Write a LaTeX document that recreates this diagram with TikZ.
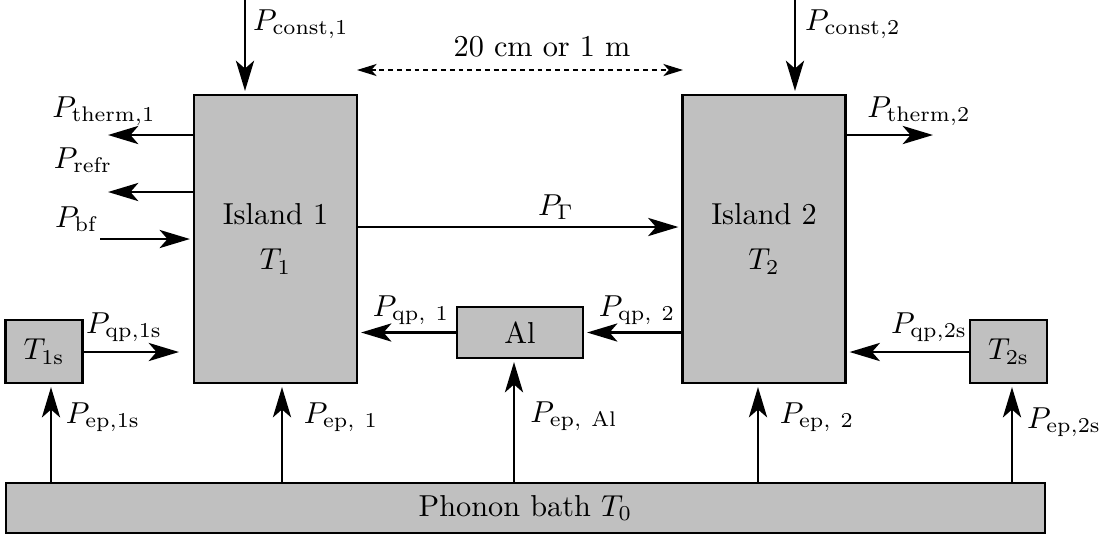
\documentclass[tikz,border=0pt]{standalone}
\usepackage{amsmath}
\usetikzlibrary{arrows.meta}
\definecolor{blockgray}{HTML}{C0C0C0}
\tikzset{
  block/.style={draw=black, fill=blockgray, line width=.7pt, align=center,
    inner sep=0pt},
  flow/.style={-{Stealth[length=10pt,width=6pt,inset=2.6pt]}, draw=black,
    line width=.85pt, shorten >=1pt},
  span/.style={{Stealth[length=6.5pt,width=4pt,inset=1.8pt]}-{Stealth[length=6.5pt,width=4pt,inset=1.8pt]},
    draw=black, line width=.45pt, dash pattern=on 1.6pt off 1.3pt},
  lab/.style={inner sep=0pt}
}

\begin{document}
\begin{tikzpicture}[x=0.33pt,y=-0.33pt]
\useasboundingbox (0,0) rectangle (1107,539);

% ---------------------------------------------------------------------------
% Blocks: two islands, the Al part, the side pieces and the bath.
% ---------------------------------------------------------------------------
\node[block, minimum width=53.8pt, minimum height=95pt] (island1) at (275.5,239)
  {Island 1\\[3pt]$T_1$};
\node[block, minimum width=53.8pt, minimum height=95pt] (island2) at (764,239)
  {Island 2\\[3pt]$T_2$};
\node[block, minimum width=41.6pt, minimum height=16.8pt] (al) at (520,332.5) {Al};
\node[block, minimum width=25.4pt, minimum height=20.8pt] (sub1) at (44,351.5) {$T_{\mathrm{1s}}$};
\node[block, minimum width=25.4pt, minimum height=20.8pt] (sub2) at (1008.5,351.5) {$T_{\mathrm{2s}}$};
\node[block, minimum width=342.9pt, minimum height=16.5pt] (bath) at (525.5,508)
  {Phonon bath $T_0$};

% ---------------------------------------------------------------------------
% Free ends of the connectors.
% ---------------------------------------------------------------------------
\coordinate (const1) at (245,0);
\coordinate (const2) at (795,0);
\coordinate (distl) at (357,70);
\coordinate (distr) at (683,70);
\coordinate (therm1) at (105,135);
\coordinate (refr) at (105,192);
\coordinate (bf) at (100,239);
\coordinate (gam) at (520,227);
\coordinate (therm2) at (936,135);
\coordinate (qp1s) at (182,352);
\coordinate (ep1s) at (51,0);
\coordinate (ep1) at (282,0);
\coordinate (epal) at (514,0);
\coordinate (ep2) at (758,0);
\coordinate (ep2s) at (1012,0);

% Top: fixed loads and the island spacing.
\draw[flow] (const1) -- (const1 |- island1.north);
\draw[flow] (const2) -- (const2 |- island2.north);
\draw[span] (distl) -- (distr);

% Island 1 side flows.
\draw[flow] (island1.west |- therm1) -- (therm1);
\draw[flow] (island1.west |- refr) -- (refr);
\draw[flow] (bf) -- (island1.west |- bf);
\draw[flow] (island1.east |- gam) -- (island2.west |- gam);
\draw[flow] (island2.east |- therm2) -- (therm2);

% Quasiparticle flows.
\draw[flow] (sub1.east |- qp1s) -- (qp1s);
\draw[flow] (al.west) -- (island1.east |- al.west);
\draw[flow] (island2.west |- al.east) -- (al.east);
\draw[flow] (sub2.west |- qp1s) -- (island2.east |- qp1s);

% Electron-phonon flows from the bath.
\draw[flow] (bath.north -| ep1s) -- (sub1.south -| ep1s);
\draw[flow] (bath.north -| ep1) -- (island1.south -| ep1);
\draw[flow] (bath.north -| epal) -- (al.south -| epal);
\draw[flow] (bath.north -| ep2) -- (island2.south -| ep2);
\draw[flow] (bath.north -| ep2s) -- (sub2.south -| ep2s);

% Labels.
\node[lab] (lconst1) at (301,24) {$P_{\mathrm{const},1}$};
\node[lab] (lconst2) at (853,24) {$P_{\mathrm{const},2}$};
\node[lab] (ldist) at (542,47) {20 cm or 1 m};
\node[lab] (ltherm1) at (104,111) {$P_{\mathrm{therm},1}$};
\node[lab] (lrefr) at (83,160) {$P_{\mathrm{refr}}$};
\node[lab] (lbf) at (77,219) {$P_{\mathrm{bf}}$};
\node[lab] (ltherm2) at (919,111) {$P_{\mathrm{therm},2}$};
\node[lab] (lgam) at (556,207) {$P_\Gamma$};
\node[lab] (lqp1s) at (124,327) {$P_{\mathrm{qp,1s}}$};
\node[lab] (lqp1) at (411,310) {$P_{\mathrm{qp,\ 1}}$};
\node[lab] (lqp2) at (637,310) {$P_{\mathrm{qp,\ 2}}$};
\node[lab] (lqp2s) at (929,327) {$P_{\mathrm{qp,2s}}$};
\node[lab] (lep1s) at (103,417) {$P_{\mathrm{ep,1s}}$};
\node[lab] (lep1) at (341,417) {$P_{\mathrm{ep,\ 1}}$};
\node[lab] (lepal) at (574,416) {$P_{\mathrm{ep,\ Al}}$};
\node[lab] (lep2) at (817,417) {$P_{\mathrm{ep,\ 2}}$};
\node[lab] (lep2s) at (1064,422) {$P_{\mathrm{ep,2s}}$};

\end{tikzpicture}
\end{document}
